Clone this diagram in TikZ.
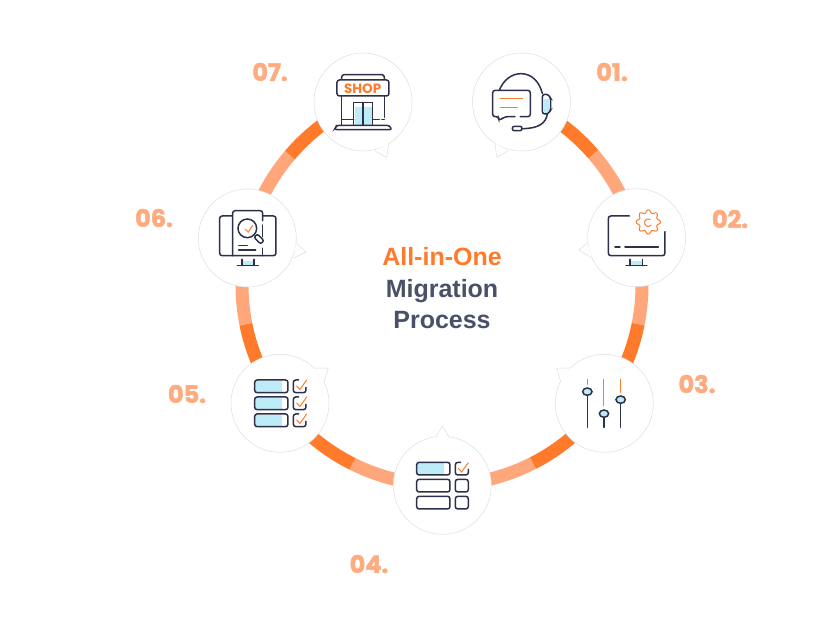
\documentclass[tikz,border=0pt]{standalone}
\usepackage{fontspec}
\setmainfont{Liberation Sans}
\newfontfamily\stepfont[FakeBold=2]{Poppins Bold}
\newfontfamily\signfont{Poppins Bold}
\pgfdeclarelayer{ringlayer}
\pgfsetlayers{ringlayer,main}
\definecolor{ink}{HTML}{2C3048}
\definecolor{slate}{HTML}{4A5068}
\definecolor{accent}{HTML}{FF7A2B}
\definecolor{ringlight}{HTML}{FFA77A}
\definecolor{steptext}{HTML}{FFAB80}
\definecolor{pale}{HTML}{BDEBF7}
\tikzset{
  disc/.style={circle,minimum size=98pt,inner sep=0pt,fill=white,draw=black!13,line width=.5pt},
  discedge/.style={draw=black!13,line width=.5pt,line join=round},
  steplabel/.style={text=steptext,font=\stepfont\fontsize{24}{24}\selectfont,inner sep=0pt},
  title/.style={font=\bfseries\fontsize{25}{25}\selectfont,inner sep=0pt,anchor=base},
  ringdark/.style={draw=accent,line width=13pt},
  ringpale/.style={draw=ringlight,line width=13pt},
  ringarc/.style 2 args={to path={plot[domain=#1:#2,samples=40] ({442+200*cos(\x)},{285-200*sin(\x)})}},
  line/.style={draw=ink,line width=1.5pt,rounded corners=2.5pt,line cap=round},
  curve/.style={draw=ink,line width=1.5pt,line cap=round},
  thin accent/.style={draw=accent,line width=1pt,line cap=round},
  icon/.style={x=.3333pt,y=-.3333pt},
}
% soft drop shadow under one disc
\newcommand{\softshadow}[2]{%
  \foreach \r in {49,51,...,61} {\fill[black,opacity=.0016] (#1+5,#2+7) circle[radius=\r pt];}}
% speech-bubble point on a disc: base, tip, base
\newcommand{\bubbletail}[3]{%
  \fill[white] #1 -- #2 -- #3 -- cycle;
  \draw[discedge] #1 -- #2 -- #3;}
\begin{document}
\begin{tikzpicture}[x=1pt,y=-1pt]
\useasboundingbox (0,0) rectangle (836,626);

% ring joins, where the two oranges meet
\coordinate (j12) at ({442+200*cos(40.8)},{285-200*sin(40.8)});
\coordinate (j23) at ({442+200*cos(-11.3)},{285-200*sin(-11.3)});
\coordinate (j34) at ({442+200*cos(-63)},{285-200*sin(-63)});
\coordinate (j45) at ({442+200*cos(-116.6)},{285-200*sin(-116.6)});
\coordinate (j56) at ({442+200*cos(191.3)},{285-200*sin(191.3)});
\coordinate (j67) at ({442+200*cos(139.5)},{285-200*sin(139.5)});

\softshadow{521.5}{102}
\softshadow{363}{102}
\softshadow{636.7}{237.7}
\softshadow{604.3}{403.3}
\softshadow{442.3}{485.3}
\softshadow{280}{403.3}
\softshadow{247.3}{238}

% step discs
\node[disc] (s1) at (521.5,102) {};
\node[disc] (s2) at (636.7,237.7) {};
\node[disc] (s3) at (604.3,403.3) {};
\node[disc] (s4) at (442.3,485.3) {};
\node[disc] (s5) at (280,403.3) {};
\node[disc] (s6) at (247.3,238) {};
\node[disc] (s7) at (363,102) {};

\bubbletail{(495,143)}{(496.7,157.3)}{(508,151)}
\bubbletail{(375,151)}{(386.7,157.3)}{(389,143)}
\bubbletail{(587,243)}{(579,250)}{(592,258)}
\bubbletail{(570,368)}{(556.7,368)}{(560.7,382)}
\bubbletail{(436,437)}{(442.3,426)}{(449,437)}
\bubbletail{(314,368)}{(328.3,368)}{(324,382)}
\bubbletail{(296,243)}{(306,252)}{(294,258)}

% ring segments, kept behind the discs
\begin{pgfonlayer}{ringlayer}
\fill[white] (0,0) rectangle (836,626);
\draw[ringdark] (s1) to[ringarc={66.5}{40.8}] (j12);
\draw[ringpale] (j12) to[ringarc={40.8}{13.6}] (s2);
\draw[ringpale] (s2) to[ringarc={13.6}{-11.3}] (j23);
\draw[ringdark] (j23) to[ringarc={-11.3}{-36}] (s3);
\draw[ringdark] (s3) to[ringarc={-36}{-63}] (j34);
\draw[ringpale] (j34) to[ringarc={-63}{-90}] (s4);
\draw[ringpale] (s4) to[ringarc={-90}{-116.6}] (j45);
\draw[ringdark] (j45) to[ringarc={-116.6}{-144}] (s5);
\draw[ringdark] (s5) to[ringarc={216}{191.3}] (j56);
\draw[ringpale] (j56) to[ringarc={191.3}{166.4}] (s6);
\draw[ringpale] (s6) to[ringarc={166.4}{139.5}] (j67);
\draw[ringdark] (j67) to[ringarc={139.5}{113.5}] (s7);
\end{pgfonlayer}

% step numbers
\node[steplabel] (n1) at (612,72) {01.};
\node[steplabel] (n2) at (730,219) {02.};
\node[steplabel] (n3) at (697,384) {03.};
\node[steplabel] (n4) at (369,564) {04.};
\node[steplabel] (n5) at (187,394) {05.};
\node[steplabel] (n6) at (154,218) {06.};
\node[steplabel] (n7) at (270,72) {07.};

% centre title
\node[title,text=accent] (t1) at (442,265) {All-in-One};
\node[title,text=slate] (t2) at (442,297) {Migration};
\node[title,text=slate] (t3) at (442,328) {Process};

% 01 headset and chat bubble
\begin{scope}[shift={(440,30)},icon]
  \fill[pale] (312,208) rectangle (327,248);
  \draw[line] (241,260) -- (271,260) -- (271,181) -- (158,181) -- (158,260) -- (176,260) -- (176,272) -- (196,260) -- (225,260);
  \draw[thin accent] (180,207) -- (248,207);
  \draw[thin accent] (180,232) -- (232,232);
  \draw[curve] (178,181) .. controls (190,150) and (215,131) .. (243,131) .. controls (275,131) and (298,155) .. (307,190);
  \draw[line] (307,193) -- (325,193) -- (332,205) -- (332,240) -- (325,252) -- (307,252) -- cycle;
  \draw[curve] (322,252) .. controls (318,280) and (295,296) .. (246,296);
  \draw[line,rounded corners=2pt] (217,289) rectangle (246,302);
\end{scope}

% 07 shop front
\begin{scope}[shift={(240,30)},icon]
  \fill[pale] (344,232) rectangle (396,285);
  \draw[line] (305,147) -- (305,134) -- (433,134) -- (433,147);
  \draw[line] (291,150) rectangle (447,198);
  \node[inner sep=0pt,text=accent,font=\signfont\fontsize{13.5}{13.5}\selectfont] (shop) at (368,175) {SHOP};
  \draw[line] (305,198) -- (305,285);
  \draw[line] (433,198) -- (433,262);
  \draw[line,rounded corners=0pt] (341,285) -- (341,217) -- (398,217) -- (398,285);
  \draw[line] (369,217) -- (369,285);
  \draw[line] (305,268) -- (341,268);
  \draw[line] (398,268) -- (418,268);
  \draw[line] (426,268) -- (433,268);
  \draw[line] (283,299) -- (290,286) -- (448,286) -- (456,299) -- cycle;
\end{scope}

% 02 monitor with gear
\begin{scope}[shift={(560,170)},icon]
  \fill[pale] (212,273) rectangle (246,285);
  \draw[line] (208,138) -- (145,138) -- (145,257) -- (315,257) -- (315,185);
  \draw[line] (165,231) -- (180,231);
  \draw[line] (195,231) -- (295,231);
  \draw[line] (210,268) -- (210,287);
  \draw[line] (248,268) -- (248,287);
  \draw[line] (198,287) -- (261,287);
  \draw[thin accent] plot[domain=0:360,samples=97,smooth] ({265+(32+4.5*cos(8*\x))*cos(\x)},{156+(32+4.5*cos(8*\x))*sin(\x)});
  \draw[thin accent] plot[domain=60:320,samples=30] ({265+11*cos(\x)},{158-11*sin(\x)});
\end{scope}

% 03 sliders
\begin{scope}[shift={(530,340)},icon]
  \draw[thin accent] (172,118) -- (172,133);
  \draw[thin accent] (222,118) -- (222,198);
  \draw[thin accent] (272,118) -- (272,157);
  \draw[line] (172,166) -- (172,262);
  \draw[line] (222,232) -- (222,262);
  \draw[line] (272,190) -- (272,262);
  \draw[line,fill=pale] (172,155) ellipse[x radius=14pt/3,y radius=11pt/3];
  \draw[line,fill=pale] (222,221) ellipse[x radius=14pt/3,y radius=11pt/3];
  \draw[line,fill=pale] (272,179) ellipse[x radius=14pt/3,y radius=11pt/3];
\end{scope}

% 04 form with one ticked row
\begin{scope}[shift={(340,420)},icon]
  \fill[pale] (232,129) rectangle (312,163);
  \draw[line] (230,127) rectangle (330,165);
  \draw[line] (230,178) rectangle (330,216);
  \draw[line] (230,229) rectangle (330,267);
  \draw[line] (362,127) -- (346,127) -- (346,165) -- (385,165) -- (385,148);
  \draw[line] (346,178) rectangle (385,216);
  \draw[line] (346,229) rectangle (385,267);
  \draw[thin accent] (355,145) -- (365,156) -- (385,128);
\end{scope}

% 05 form with all rows ticked
\begin{scope}[shift={(160,340)},icon]
  \foreach \y in {120,171,222} {
    \fill[pale] (286,\y+2) rectangle (366,\y+36);
    \draw[line] (284,\y) rectangle (384,\y+38);
    \draw[line] (416,\y) -- (400,\y) -- (400,\y+38) -- (438,\y+38) -- (438,\y+22);
    \draw[thin accent] (410,\y+18) -- (420,\y+28) -- (440,\y);
  }
\end{scope}

% 06 monitor with document under a magnifier
\begin{scope}[shift={(130,180)},icon]
  \fill[pale] (338,243) rectangle (370,255);
  \draw[line] (307,108) -- (269,108) -- (269,227) -- (438,227) -- (438,108) -- (398,108);
  \draw[line] (308,227) -- (308,92) -- (398,92) -- (398,122);
  \draw[line] (398,135) -- (398,170);
  \draw[line] (398,205) -- (398,227);
  \draw[line,fill=white] (352,145) circle[radius=28pt/3];
  \draw[thin accent] (346,148) -- (355,156) -- (368,136);
  \draw[line,rounded corners=2pt] (372,172) -- (382,162) -- (402,182) -- (392,192) -- cycle;
  \draw[line] (326,196) -- (352,196);
  \draw[line] (326,210) -- (377,210);
  \draw[line] (336,238) -- (336,257);
  \draw[line] (372,238) -- (372,257);
  \draw[line] (322,257) -- (385,257);
\end{scope}
\end{tikzpicture}
\end{document}
